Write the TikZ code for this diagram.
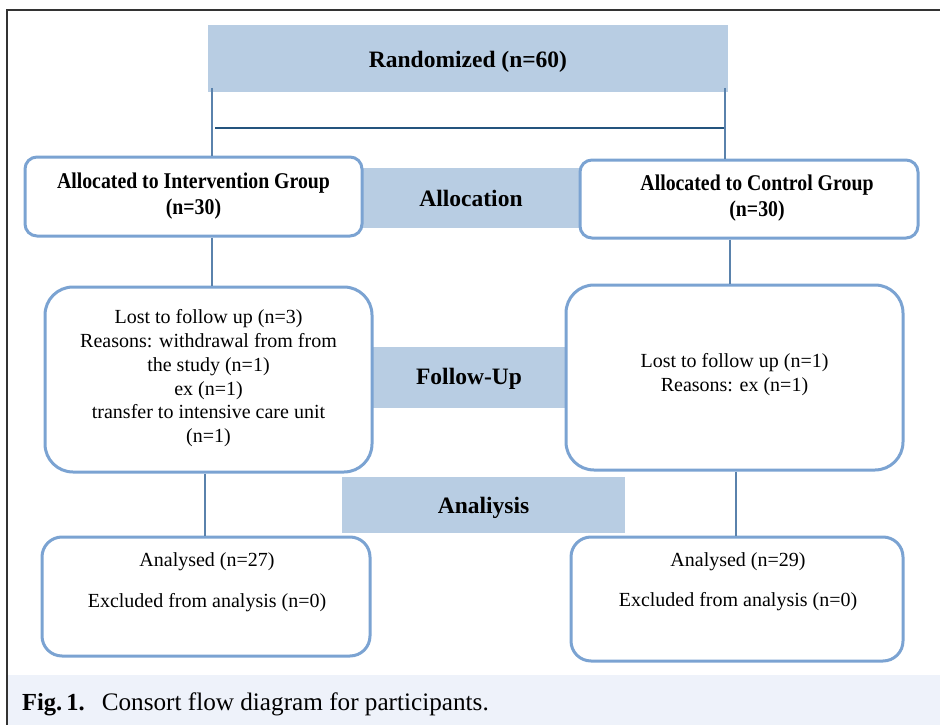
\documentclass[tikz,border=0pt]{standalone}
\usepackage{fontspec}
\setmainfont{Liberation Serif}
\newfontfamily\condserif[FakeStretch=0.88]{Liberation Serif}
\definecolor{headfill}{HTML}{B8CDE3}
\definecolor{boxline}{HTML}{7BA3D2}
\definecolor{connc}{HTML}{5A82AC}
\definecolor{hlinec}{HTML}{24547E}
\definecolor{capbg}{HTML}{EEF2FA}
\definecolor{framec}{HTML}{333333}
\newcommand{\lowerby}[2]{\raisebox{-#1}[\height][\depth]{#2}}
\tikzset{
  band/.style={fill=headfill, draw=none, inner sep=0pt, font=\fontsize{23.5}{28}\selectfont\bfseries},
  flowbox/.style={draw=boxline, line width=3pt, fill=white, inner sep=0pt, align=center},
  allocbox/.style={flowbox, rounded corners=12pt, font=\condserif\fontsize{22.5}{26}\selectfont\bfseries},
  fubox/.style={flowbox, rounded corners=28pt, font=\fontsize{20}{23.8}\selectfont},
  anbox/.style={flowbox, rounded corners=20pt},
  plaintext/.style={inner sep=0pt, align=center, font=\fontsize{20}{24}\selectfont},
  conn/.style={draw=connc, line width=1.3pt},
  hconn/.style={draw=hlinec, line width=2.2pt},
}
\begin{document}
\begin{tikzpicture}[x=1pt,y=-1pt]
\useasboundingbox (0,0) rectangle (940,725);
% caption band and frame
\fill[capbg] (7,675) rectangle (940,725);
\draw[framec, line width=1.2pt] (7,725) -- (7,10) -- (940,10);
\node[anchor=base west, inner sep=0pt, font=\fontsize{24.5}{28}\selectfont] (cap) at (22,710)
  {\textbf{Fig.\,1.}\hspace{17pt}{\fontsize{25.2}{28}\selectfont Consort flow diagram for participants.}};

% Randomized
\node[band, minimum width=520pt, minimum height=67pt] (rand) at (468,58.5) {\lowerby{3pt}{Randomized (n=60)}};

% section bands (behind boxes)
\node[band, minimum width=240pt, minimum height=60pt] (allocband) at (471,198) {Allocation};
\node[band, minimum width=200pt, minimum height=61pt] (fuband) at (469,377.5) {\lowerby{1pt}{Follow-Up}};
\node[band, minimum width=283pt, minimum height=56pt] (anband) at (483.5,505) {\lowerby{3pt}{Analiysis}};

% allocation boxes
\node[allocbox, minimum width=337pt, minimum height=79pt] (lalloc) at (193.5,196.5)
  {Allocated to Intervention Group\\(n=30)};
\node[allocbox, minimum width=338pt, minimum height=78pt] (ralloc) at (749,199)
  {\hspace*{16pt}Allocated to Control Group\\\hspace*{16pt}(n=30)\\[-20pt]};

% follow-up boxes
\node[fubox, minimum width=327pt, minimum height=185pt] (lfu) at (208.5,379.5)
  {Lost to follow up (n=3)\\Reasons: withdrawal from from\\the study (n=1)\\ex (n=1)\\transfer to intensive care unit\\(n=1)\\[-17pt]};
\node[fubox, minimum width=337pt, minimum height=185pt] (rfu) at (734.5,377.5)
  {Lost to follow up (n=1)\\Reasons: ex (n=1)\\[-14pt]};

% analysis boxes
\node[anbox, minimum width=328pt, minimum height=119pt] (lan) at (206,596.5) {};
\node[anbox, minimum width=332pt, minimum height=124pt] (ran) at (737,599) {};
\node[plaintext] (lan1) at (207,562) {Analysed (n=27)};
\node[plaintext] (lan2) at (207,603) {Excluded from analysis (n=0)};
\node[plaintext] (ran1) at (738,562) {Analysed (n=29)};
\node[plaintext] (ran2) at (738,602) {Excluded from analysis (n=0)};

% connectors
\coordinate (rl) at (212,88);
\coordinate (rr) at (725,88);
\draw[conn] (rl) -- (rl |- lalloc.north);
\draw[conn] (rr) -- (rr |- ralloc.north);
\coordinate (hl) at (215,128);
\coordinate (hr) at (724,128);
\draw[hconn] (hl) -- (hr);
\coordinate (al) at (212,0);
\coordinate (ar) at (730,0);
\draw[conn] (al |- lalloc.south) -- (al |- lfu.north);
\draw[conn] (ar |- ralloc.south) -- (ar |- rfu.north);
\coordinate (fl) at (205,0);
\coordinate (fr) at (736,0);
\draw[conn] (fl |- lfu.south) -- (fl |- lan.north);
\draw[conn] (fr |- rfu.south) -- (fr |- ran.north);
\end{tikzpicture}
\end{document}
